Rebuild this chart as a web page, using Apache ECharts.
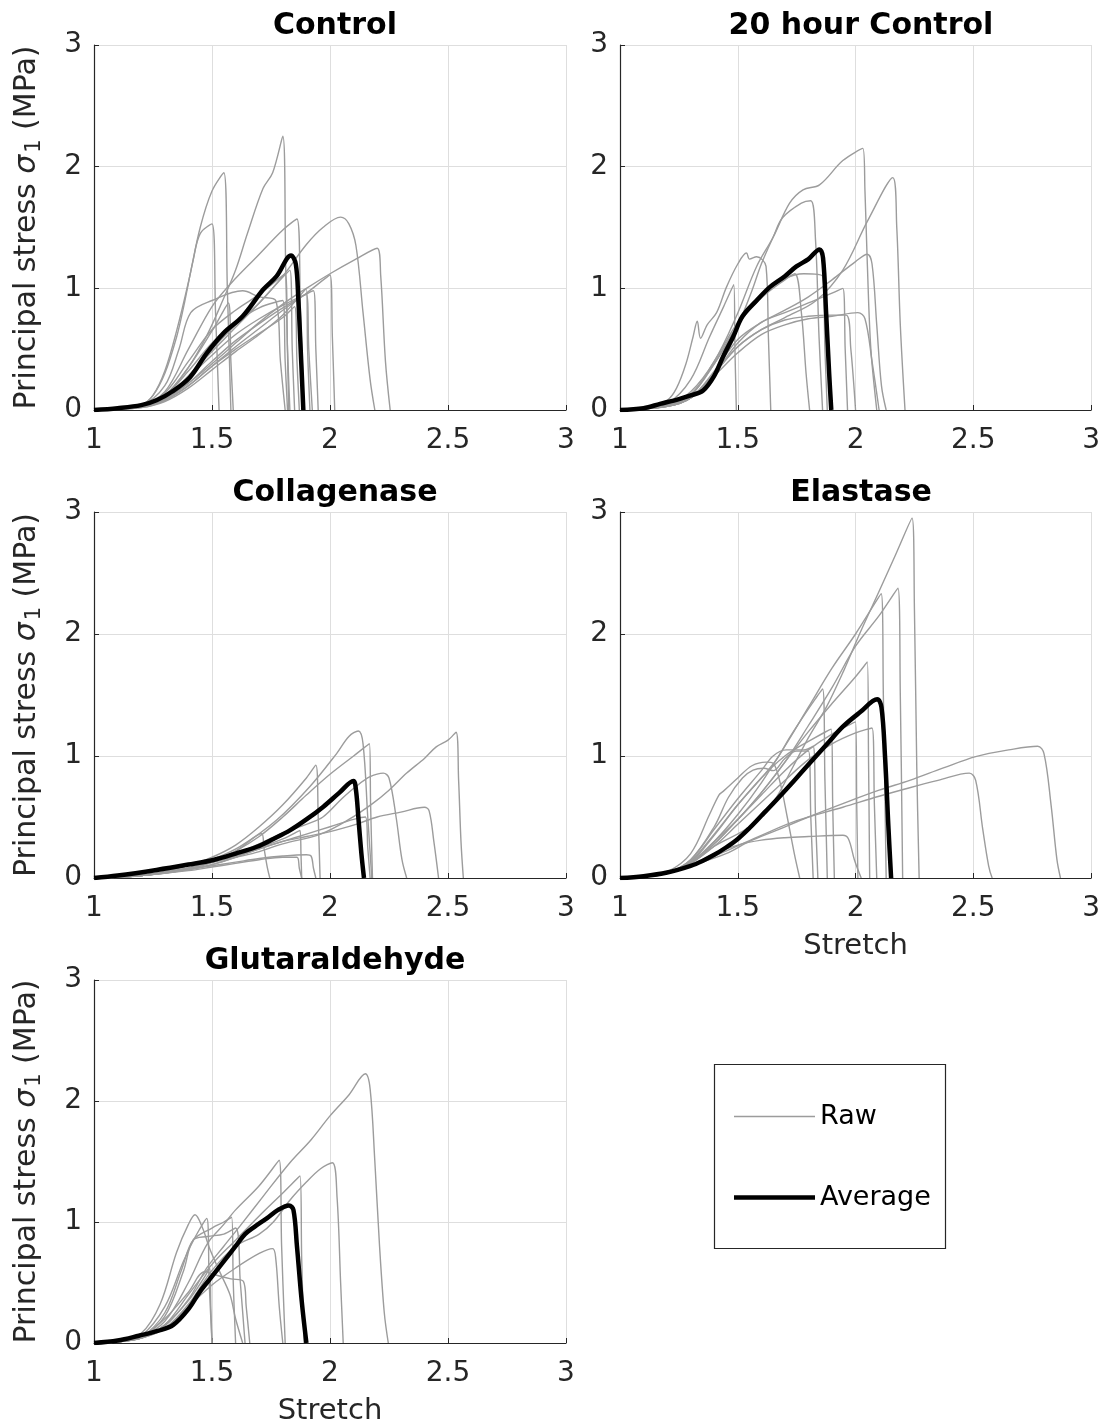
<!DOCTYPE html>
<html>
<head>
<meta charset="utf-8">
<script src="https://cdn.jsdelivr.net/npm/echarts@6/dist/echarts.min.js"></script>
<style>
  * { margin: 0; padding: 0; box-sizing: border-box; }
  body { background: #fff; }
  #chart { width: 1103px; height: 1427px; }
</style>
</head>
<body>
<div id="chart"></div>
<script>
// panel titles
const panelTitles = ['Control', '20 hour Control', 'Collagenase', 'Elastase', 'Glutaraldehyde'];
const xTicks = [1, 1.5, 2, 2.5, 3];
const yTicks = [0, 1, 2, 3];

// Control: raw specimens (stretch, stress MPa)
const controlRaw = [
  [[1,0],[1.1,0.01],[1.2,0.04],[1.3,0.12],[1.4,0.35],[1.48,0.62],[1.55,0.92],[1.6,1.15],[1.65,1.45],[1.716,1.82],[1.757,1.95],[1.8,2.25],[1.812,1.2],[1.825,0]],
  [[1,0],[1.1,0.01],[1.2,0.04],[1.25,0.12],[1.3,0.32],[1.35,0.65],[1.4,1.05],[1.45,1.5],[1.5,1.8],[1.55,1.95],[1.565,1.0],[1.58,0]],
  [[1,0],[1.1,0.01],[1.2,0.04],[1.25,0.12],[1.3,0.3],[1.35,0.6],[1.38,0.85],[1.42,1.23],[1.45,1.45],[1.5,1.53],[1.515,0.8],[1.53,0]],
  [[1,0],[1.1,0.01],[1.2,0.04],[1.3,0.15],[1.4,0.5],[1.5,0.85],[1.58,1.04],[1.69,1.26],[1.8,1.48],[1.86,1.57],[1.875,0.8],[1.89,0]],
  [[1,0],[1.1,0.01],[1.2,0.03],[1.3,0.1],[1.4,0.28],[1.5,0.48],[1.6,0.68],[1.7,0.88],[1.8,1.1],[1.9,1.36],[1.97,1.5],[2.045,1.585],[2.08,1.53],[2.11,1.35],[2.14,0.8],[2.17,0.25],[2.19,0]],
  [[1,0],[1.1,0.01],[1.2,0.03],[1.3,0.09],[1.4,0.22],[1.5,0.38],[1.6,0.55],[1.7,0.72],[1.8,0.87],[1.9,1.0],[2.0,1.12],[2.1,1.23],[2.2,1.33],[2.215,1.1],[2.235,0.4],[2.255,0]],
  [[1,0],[1.2,0.03],[1.3,0.08],[1.4,0.2],[1.5,0.36],[1.6,0.52],[1.7,0.67],[1.8,0.82],[1.9,0.96],[2.0,1.11],[2.01,0.6],[2.02,0]],
  [[1,0],[1.2,0.03],[1.3,0.09],[1.4,0.22],[1.5,0.4],[1.6,0.57],[1.7,0.71],[1.8,0.84],[1.93,0.98],[1.94,0.5],[1.95,0]],
  [[1,0],[1.2,0.04],[1.3,0.2],[1.36,0.5],[1.41,0.8],[1.5,0.9],[1.63,0.98],[1.7,0.93],[1.77,0.9],[1.79,0.4],[1.81,0]],
  [[1,0],[1.2,0.03],[1.3,0.12],[1.4,0.35],[1.5,0.65],[1.57,0.88],[1.58,0.4],[1.59,0]],
  [[1,0],[1.2,0.03],[1.3,0.1],[1.4,0.28],[1.5,0.5],[1.6,0.7],[1.7,0.88],[1.78,1.05],[1.83,1.15],[1.84,0.5],[1.85,0]],
  [[1,0],[1.2,0.02],[1.3,0.07],[1.4,0.18],[1.5,0.33],[1.6,0.48],[1.7,0.62],[1.8,0.78],[1.9,1.0],[1.905,0.5],[1.915,0]],
  [[1,0],[1.2,0.02],[1.3,0.08],[1.4,0.2],[1.5,0.36],[1.6,0.5],[1.7,0.63],[1.8,0.76],[1.85,0.85],[1.86,0.4],[1.87,0]],
  [[1,0],[1.2,0.03],[1.3,0.1],[1.4,0.27],[1.5,0.45],[1.6,0.62],[1.7,0.75],[1.8,0.86],[1.9,0.95],[1.91,0.5],[1.925,0]],
  [[1,0],[1.2,0.03],[1.3,0.12],[1.4,0.32],[1.5,0.55],[1.6,0.72],[1.7,0.84],[1.8,0.9],[1.81,0.4],[1.82,0]],
  [[1,0],[1.2,0.04],[1.3,0.14],[1.4,0.4],[1.5,0.66],[1.6,0.82],[1.7,0.95],[1.81,1.12],[1.82,0.5],[1.83,0]]
];
const controlAvg = [[1,0],[1.1,0.015],[1.2,0.04],[1.265,0.08],[1.33,0.15],[1.407,0.27],[1.477,0.465],[1.548,0.63],[1.63,0.77],[1.717,0.99],[1.774,1.1],[1.835,1.27],[1.855,1.2],[1.866,0.9],[1.878,0.4],[1.887,0]];

// 20 hour Control
const hourRaw = [
  [[1,0],[1.1,0.01],[1.2,0.04],[1.3,0.15],[1.4,0.4],[1.494,0.77],[1.58,1.18],[1.65,1.42],[1.72,1.7],[1.777,1.81],[1.847,1.85],[1.946,2.05],[2.031,2.15],[2.04,1.8],[2.05,1.2],[2.065,0.5],[2.09,0]],
  [[1,0],[1.1,0.01],[1.2,0.03],[1.3,0.1],[1.4,0.3],[1.5,0.52],[1.6,0.66],[1.7,0.76],[1.833,0.9],[1.946,1.15],[2.05,1.55],[2.158,1.91],[2.175,1.5],[2.19,0.7],[2.21,0]],
  [[1,0],[1.1,0.01],[1.2,0.04],[1.3,0.13],[1.4,0.38],[1.5,0.7],[1.56,0.98],[1.6,1.2],[1.65,1.42],[1.69,1.58],[1.77,1.7],[1.81,1.72],[1.83,1.4],[1.845,0.6],[1.86,0]],
  [[1,0],[1.1,0.02],[1.2,0.08],[1.24,0.18],[1.28,0.38],[1.31,0.6],[1.328,0.73],[1.342,0.59],[1.37,0.7],[1.41,0.8],[1.452,1.01],[1.5,1.2],[1.537,1.29],[1.55,1.24],[1.58,1.26],[1.62,1.18],[1.63,0.6],[1.64,0]],
  [[1,0],[1.1,0.01],[1.2,0.05],[1.3,0.25],[1.38,0.6],[1.44,0.85],[1.483,1.03],[1.488,0.5],[1.494,0]],
  [[1,0],[1.1,0.01],[1.2,0.04],[1.3,0.12],[1.4,0.38],[1.5,0.7],[1.6,0.92],[1.7,1.07],[1.742,1.12],[1.77,0.8],[1.79,0.3],[1.805,0]],
  [[1,0],[1.1,0.01],[1.2,0.04],[1.3,0.12],[1.4,0.4],[1.5,0.72],[1.6,0.95],[1.7,1.08],[1.78,1.12],[1.86,1.1],[1.87,0.5],[1.88,0]],
  [[1,0],[1.2,0.03],[1.3,0.1],[1.4,0.3],[1.5,0.55],[1.6,0.72],[1.7,0.8],[1.8,0.88],[1.9,0.96],[1.946,1.0],[1.956,0.5],[1.966,0]],
  [[1,0],[1.2,0.03],[1.3,0.1],[1.4,0.32],[1.5,0.58],[1.6,0.72],[1.7,0.82],[1.8,0.93],[1.9,1.07],[2.0,1.22],[2.05,1.28],[2.07,1.2],[2.09,0.7],[2.11,0.2],[2.13,0]],
  [[1,0],[1.2,0.03],[1.3,0.1],[1.4,0.28],[1.5,0.47],[1.6,0.62],[1.7,0.7],[1.8,0.75],[1.9,0.77],[2.01,0.8],[2.04,0.75],[2.07,0.4],[2.1,0]],
  [[1,0],[1.2,0.03],[1.3,0.1],[1.4,0.3],[1.5,0.52],[1.6,0.66],[1.7,0.74],[1.8,0.77],[1.9,0.78],[1.96,0.78],[1.98,0.5],[2.0,0]]
];
const hourAvg = [[1,0],[1.1,0.015],[1.17,0.05],[1.25,0.09],[1.3,0.12],[1.353,0.16],[1.4,0.28],[1.438,0.44],[1.48,0.6],[1.52,0.77],[1.58,0.9],[1.636,1.01],[1.7,1.1],[1.749,1.18],[1.8,1.24],[1.847,1.32],[1.862,1.25],[1.875,0.8],[1.888,0.3],[1.897,0]];

// Collagenase
const collRaw = [
  [[1,0],[1.2,0.02],[1.4,0.08],[1.5,0.15],[1.62,0.26],[1.774,0.475],[1.915,0.75],[2.028,1.02],[2.08,1.16],[2.12,1.205],[2.14,1.1],[2.16,0.5],[2.177,0]],
  [[1,0],[1.2,0.02],[1.4,0.07],[1.5,0.13],[1.6,0.22],[1.7,0.34],[1.8,0.5],[1.9,0.68],[2.0,0.85],[2.1,1.0],[2.167,1.1],[2.172,0.6],[2.18,0]],
  [[1,0],[1.2,0.02],[1.4,0.1],[1.5,0.17],[1.6,0.27],[1.7,0.42],[1.8,0.6],[1.9,0.82],[1.94,0.925],[1.95,0.5],[1.958,0]],
  [[1,0],[1.2,0.02],[1.4,0.08],[1.5,0.13],[1.67,0.2],[1.8,0.28],[1.96,0.36],[2.08,0.48],[2.18,0.61],[2.25,0.72],[2.325,0.86],[2.4,0.98],[2.45,1.075],[2.5,1.13],[2.534,1.195],[2.545,0.8],[2.555,0.3],[2.565,0]],
  [[1,0],[1.2,0.02],[1.4,0.08],[1.5,0.13],[1.6,0.2],[1.7,0.28],[1.8,0.37],[1.9,0.44],[1.97,0.5],[2.05,0.65],[2.11,0.75],[2.17,0.83],[2.226,0.86],[2.25,0.82],[2.28,0.5],[2.305,0.15],[2.325,0]],
  [[1,0],[1.2,0.02],[1.4,0.07],[1.5,0.11],[1.6,0.17],[1.7,0.24],[1.8,0.3],[1.9,0.34],[2.0,0.38],[2.11,0.44],[2.2,0.5],[2.3,0.54],[2.4,0.58],[2.42,0.55],[2.44,0.3],[2.46,0]],
  [[1,0],[1.2,0.02],[1.4,0.08],[1.5,0.14],[1.6,0.22],[1.71,0.365],[1.72,0.25],[1.735,0.08],[1.745,0]],
  [[1,0],[1.2,0.02],[1.4,0.07],[1.5,0.11],[1.6,0.17],[1.7,0.25],[1.8,0.32],[1.873,0.39],[1.877,0.2],[1.88,0]],
  [[1,0],[1.2,0.02],[1.4,0.07],[1.5,0.1],[1.6,0.13],[1.7,0.16],[1.8,0.18],[1.9,0.19],[1.92,0.18],[1.93,0.08],[1.94,0]],
  [[1,0],[1.2,0.02],[1.4,0.06],[1.5,0.09],[1.6,0.12],[1.7,0.15],[1.8,0.17],[1.86,0.17],[1.87,0.08],[1.88,0]],
  [[1,0],[1.2,0.02],[1.4,0.08],[1.6,0.18],[1.8,0.3],[1.9,0.36],[2.0,0.42],[2.1,0.48],[2.15,0.5],[2.16,0.25],[2.17,0]]
];
const collAvg = [[1,0],[1.1,0.02],[1.265,0.066],[1.4,0.11],[1.506,0.148],[1.6,0.2],[1.69,0.256],[1.76,0.32],[1.83,0.39],[1.9,0.48],[1.972,0.585],[2.04,0.7],[2.099,0.795],[2.11,0.72],[2.12,0.5],[2.133,0.2],[2.144,0]];

// Elastase
const elasRaw = [
  [[1,0],[1.1,0.01],[1.2,0.04],[1.3,0.12],[1.4,0.26],[1.55,0.42],[1.65,0.62],[1.734,0.91],[1.8,1.15],[1.876,1.4],[1.95,1.7],[2.017,2.0],[2.1,2.35],[2.17,2.65],[2.24,2.95],[2.25,2.2],[2.26,0.9],[2.27,0]],
  [[1,0],[1.1,0.01],[1.2,0.04],[1.3,0.12],[1.4,0.3],[1.5,0.48],[1.6,0.7],[1.7,0.95],[1.8,1.25],[1.9,1.56],[2.0,1.9],[2.1,2.15],[2.18,2.375],[2.19,1.5],[2.2,0]],
  [[1,0],[1.1,0.01],[1.2,0.04],[1.3,0.13],[1.4,0.3],[1.5,0.52],[1.6,0.78],[1.7,1.08],[1.8,1.4],[1.9,1.72],[2.0,2.0],[2.109,2.33],[2.118,1.5],[2.13,0]],
  [[1,0],[1.1,0.01],[1.2,0.04],[1.3,0.12],[1.4,0.28],[1.5,0.48],[1.6,0.7],[1.7,0.95],[1.8,1.2],[1.9,1.43],[2.0,1.65],[2.05,1.77],[2.055,1.0],[2.06,0]],
  [[1,0],[1.1,0.01],[1.2,0.04],[1.3,0.13],[1.4,0.35],[1.5,0.6],[1.6,0.82],[1.664,0.97],[1.72,1.15],[1.777,1.32],[1.83,1.47],[1.86,1.55],[1.87,0.8],[1.88,0]],
  [[1,0],[1.1,0.01],[1.2,0.04],[1.3,0.12],[1.4,0.26],[1.5,0.44],[1.6,0.62],[1.7,0.8],[1.8,0.97],[1.9,1.1],[2.0,1.19],[2.07,1.23],[2.08,0.6],[2.09,0]],
  [[1,0],[1.1,0.01],[1.2,0.04],[1.3,0.14],[1.4,0.36],[1.5,0.6],[1.6,0.82],[1.7,1.0],[1.8,1.12],[1.897,1.22],[1.903,0.6],[1.91,0]],
  [[1,0],[1.1,0.01],[1.2,0.04],[1.3,0.15],[1.4,0.4],[1.5,0.65],[1.6,0.88],[1.65,1.0],[1.706,1.05],[1.78,1.05],[1.82,1.08],[1.83,0.5],[1.84,0]],
  [[1,0],[1.1,0.01],[1.2,0.05],[1.3,0.2],[1.38,0.52],[1.42,0.68],[1.438,0.71],[1.5,0.82],[1.56,0.92],[1.62,0.95],[1.65,0.94],[1.68,0.78],[1.71,0.5],[1.74,0.2],[1.763,0]],
  [[1,0],[1.1,0.01],[1.2,0.04],[1.3,0.15],[1.4,0.42],[1.46,0.66],[1.52,0.82],[1.565,0.885],[1.61,0.9],[1.65,0.88],[1.7,0.98],[1.75,1.04],[1.8,1.04],[1.81,0.5],[1.82,0]],
  [[1,0],[1.1,0.01],[1.2,0.04],[1.3,0.1],[1.45,0.2],[1.55,0.3],[1.664,0.39],[1.8,0.5],[1.946,0.61],[2.1,0.72],[2.23,0.8],[2.37,0.9],[2.51,0.995],[2.65,1.05],[2.773,1.08],[2.8,1.02],[2.83,0.6],[2.855,0.15],[2.87,0]],
  [[1,0],[1.1,0.01],[1.2,0.04],[1.3,0.1],[1.45,0.22],[1.6,0.35],[1.75,0.47],[1.946,0.58],[2.1,0.67],[2.23,0.74],[2.35,0.8],[2.483,0.86],[2.51,0.8],[2.54,0.4],[2.565,0.1],[2.58,0]],
  [[1,0],[1.1,0.01],[1.2,0.04],[1.3,0.1],[1.4,0.2],[1.5,0.27],[1.6,0.31],[1.7,0.33],[1.8,0.34],[1.946,0.35],[1.97,0.32],[1.995,0.15],[2.024,0]],
  [[1,0],[1.2,0.04],[1.3,0.12],[1.4,0.28],[1.5,0.48],[1.6,0.68],[1.7,0.88],[1.8,1.05],[1.9,1.18],[2.0,1.28],[2.005,0.6],[2.01,0]]
];
const elasAvg = [[1,0],[1.1,0.015],[1.2,0.045],[1.3,0.1],[1.35,0.14],[1.4,0.19],[1.45,0.25],[1.5,0.32],[1.55,0.41],[1.6,0.51],[1.664,0.64],[1.74,0.8],[1.805,0.94],[1.88,1.1],[1.946,1.24],[2.02,1.36],[2.092,1.465],[2.11,1.4],[2.125,1.0],[2.14,0.4],[2.151,0]];

// Glutaraldehyde
const glutRaw = [
  [[1,0],[1.1,0.01],[1.2,0.04],[1.3,0.14],[1.4,0.36],[1.478,0.62],[1.55,0.8],[1.62,0.97],[1.72,1.22],[1.83,1.49],[1.92,1.68],[2.0,1.877],[2.08,2.05],[2.15,2.225],[2.17,2.1],[2.19,1.5],[2.21,0.8],[2.23,0.25],[2.247,0]],
  [[1,0],[1.1,0.01],[1.2,0.05],[1.3,0.18],[1.4,0.5],[1.48,0.82],[1.55,0.98],[1.6,1.1],[1.7,1.3],[1.785,1.51],[1.795,0.8],[1.81,0]],
  [[1,0],[1.1,0.01],[1.2,0.04],[1.3,0.12],[1.4,0.32],[1.5,0.6],[1.6,0.8],[1.7,0.9],[1.76,1.0],[1.83,1.18],[1.9,1.33],[1.96,1.44],[2.01,1.49],[2.03,1.2],[2.045,0.5],[2.056,0]],
  [[1,0],[1.1,0.01],[1.2,0.04],[1.3,0.15],[1.4,0.4],[1.5,0.65],[1.6,0.85],[1.7,1.05],[1.8,1.24],[1.873,1.38],[1.88,0.7],[1.89,0]],
  [[1,0],[1.1,0.02],[1.2,0.08],[1.28,0.32],[1.35,0.75],[1.4,0.98],[1.428,1.06],[1.46,0.95],[1.49,0.78],[1.53,0.6],[1.576,0.4],[1.6,0.2],[1.63,0]],
  [[1,0],[1.1,0.01],[1.2,0.06],[1.3,0.3],[1.38,0.68],[1.43,0.88],[1.478,1.03],[1.488,0.5],[1.5,0]],
  [[1,0],[1.1,0.01],[1.2,0.05],[1.3,0.22],[1.38,0.6],[1.42,0.85],[1.5,0.95],[1.55,1.0],[1.583,1.04],[1.59,0.5],[1.6,0]],
  [[1,0],[1.1,0.01],[1.2,0.04],[1.3,0.12],[1.4,0.3],[1.5,0.48],[1.6,0.62],[1.7,0.74],[1.757,0.78],[1.77,0.7],[1.785,0.3],[1.8,0]],
  [[1,0],[1.1,0.01],[1.2,0.05],[1.3,0.2],[1.4,0.42],[1.47,0.59],[1.52,0.56],[1.58,0.53],[1.633,0.51],[1.645,0.3],[1.66,0]],
  [[1,0],[1.1,0.01],[1.2,0.05],[1.3,0.25],[1.37,0.6],[1.42,0.85],[1.48,0.88],[1.55,0.9],[1.6,0.95],[1.62,0.5],[1.64,0]],
  [[1,0],[1.2,0.04],[1.3,0.15],[1.4,0.35],[1.47,0.55],[1.49,0.62],[1.495,0.3],[1.5,0]]
];
const glutAvg = [[1,0],[1.1,0.02],[1.19,0.06],[1.27,0.1],[1.336,0.15],[1.4,0.28],[1.449,0.425],[1.5,0.55],[1.548,0.67],[1.6,0.8],[1.64,0.9],[1.68,0.96],[1.732,1.03],[1.78,1.1],[1.826,1.137],[1.845,1.1],[1.86,0.8],[1.88,0.35],[1.9,0]];

const rawSets = [controlRaw, hourRaw, collRaw, elasRaw, glutRaw];
const avgSets = [controlAvg, hourAvg, collAvg, elasAvg, glutAvg];

const FONT = 'DejaVu Sans';
const AXIS_COLOR = '#262626';
const RAW_COLOR = '#9c9c9c';
const panels = [
  { left: 94, top: 45, height: 365, yName: true, xName: false },
  { left: 620, top: 45, height: 365, yName: false, xName: false },
  { left: 94, top: 512, height: 366, yName: true, xName: false },
  { left: 620, top: 512, height: 366, yName: false, xName: true },
  { left: 94, top: 980, height: 365, yName: true, xName: true }
];

const chart = echarts.init(document.getElementById('chart'), null, { renderer: 'canvas' });

const grids = [], xAxes = [], yAxes = [], titles = [], series = [];
panels.forEach((p, i) => {
  grids.push({ left: p.left, top: p.top, width: 472, height: p.height, containLabel: false });
  titles.push({
    text: panelTitles[i],
    left: p.left + 236,
    top: p.top - 39,
    textAlign: 'center',
    textStyle: { fontFamily: FONT, fontSize: 30, fontWeight: 'bold', color: '#000' }
  });
  xAxes.push({
    type: 'value', gridIndex: i, min: xTicks[0], max: xTicks[xTicks.length - 1], interval: 0.5,
    name: p.xName ? 'Stretch' : '', nameLocation: 'middle', nameGap: 54,
    nameTextStyle: { fontFamily: FONT, fontSize: 29, color: AXIS_COLOR },
    axisLine: { show: true, onZero: false, lineStyle: { color: AXIS_COLOR, width: 1.2 } },
    axisTick: { show: true, inside: true, length: 5, lineStyle: { color: AXIS_COLOR } },
    axisLabel: { fontFamily: FONT, fontSize: 28, color: AXIS_COLOR, margin: 17, formatter: v => String(v) },
    splitLine: { show: true, lineStyle: { color: '#dedede', width: 1 } }
  });
  yAxes.push({
    type: 'value', gridIndex: i, min: yTicks[0], max: yTicks[yTicks.length - 1], interval: 1,
    name: p.yName ? '{a|Principal stress }{b|σ}{c|1}{a| (MPa)}' : '',
    nameLocation: 'middle', nameGap: 49,
    nameTextStyle: {
      color: AXIS_COLOR,
      rich: {
        a: { fontFamily: FONT, fontSize: 30, color: AXIS_COLOR },
        b: { fontFamily: FONT, fontSize: 30, fontStyle: 'italic', color: AXIS_COLOR },
        c: { fontFamily: FONT, fontSize: 21, color: AXIS_COLOR, padding: [14, 0, 0, 2] }
      }
    },
    axisLine: { show: true, onZero: false, lineStyle: { color: AXIS_COLOR, width: 1.2 } },
    axisTick: { show: true, inside: true, length: 5, lineStyle: { color: AXIS_COLOR } },
    axisLabel: { fontFamily: FONT, fontSize: 28, color: AXIS_COLOR, margin: 12 },
    splitLine: { show: true, lineStyle: { color: '#dedede', width: 1 } }
  });
  rawSets[i].forEach(curve => {
    series.push({
      name: 'Raw', type: 'line', xAxisIndex: i, yAxisIndex: i, data: curve,
      symbol: 'none', smooth: 0.35,
      lineStyle: { color: RAW_COLOR, width: 1.4 }, itemStyle: { color: RAW_COLOR },
      silent: true, z: 2
    });
  });
  series.push({
    name: 'Average', type: 'line', xAxisIndex: i, yAxisIndex: i, data: avgSets[i],
    symbol: 'none', smooth: 0.35,
    lineStyle: { color: '#000', width: 4.5, join: 'round' }, itemStyle: { color: '#000' },
    silent: true, z: 3
  });
});

const option = {
  animation: false,
  backgroundColor: '#fff',
  title: titles,
  grid: grids,
  xAxis: xAxes,
  yAxis: yAxes,
  legend: {
    data: [
      { name: 'Raw', icon: 'path://M0,0h81v1.6h-81z', itemStyle: { color: RAW_COLOR } },
      { name: 'Average', icon: 'path://M0,0h81v4.5h-81z', itemStyle: { color: '#000' } }
    ],
    orient: 'vertical',
    left: 729, top: 1098,
    itemWidth: 81, itemHeight: 27, itemGap: 54,
    selectedMode: false,
    textStyle: { fontFamily: FONT, fontSize: 27, color: '#000', lineHeight: 27 }
  },
  graphic: [{
    type: 'rect', left: 712, top: 1062,
    shape: { width: 231, height: 184 },
    style: { fill: 'none', stroke: AXIS_COLOR, lineWidth: 1.2 }
  }],
  series: series
};

chart.setOption(option);
</script>
</body>
</html>
